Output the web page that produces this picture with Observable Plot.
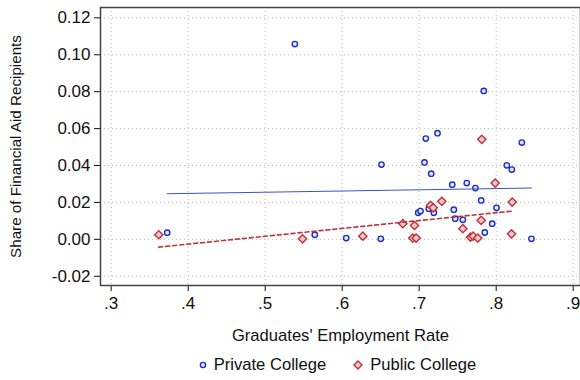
<!DOCTYPE html>
<html>
<head>
<meta charset="utf-8">
<script src="https://cdn.jsdelivr.net/npm/d3@7"></script>
<script src="https://cdn.jsdelivr.net/npm/@observablehq/plot@0.6"></script>
<style>
  body { margin: 0; background: #fff; font-family: "Liberation Sans", Arial, sans-serif; }
  #chart { width: 580px; }
  #chart svg text { font-size: 17px; }
  #chart g[aria-label="x-axis label"] text { font-size: 16.6px; }
  #chart g[aria-label="y-axis label"] text { font-size: 15.2px; }
  .legend { display: flex; justify-content: center; align-items: center; height: 40px; padding-left: 94px; font-size: 16.6px; color: #111; }
  .legend .item { display: flex; align-items: center; margin: 0 13px; }
  .legend svg { margin-right: 6px; }
</style>
</head>
<body>
<div id="chart"></div>
<div class="legend">
  <div class="item"><svg width="10" height="10"><circle cx="5" cy="5" r="2.6" fill="#e4e8fa" stroke="#1c2fc4" stroke-width="1.4"/></svg>Private College</div>
  <div class="item"><svg width="12" height="12"><path d="M6,2L10,6L6,10L2,6Z" fill="#f4c9cb" stroke="#c22f36" stroke-width="1.4"/></svg>Public College</div>
</div>
<script>
// Private colleges: employment rate and share of financial aid recipients
const privateX = [0.5385, 0.3727, 0.5644, 0.6052, 0.6510, 0.6501, 0.7839, 0.7238, 0.7086, 0.8333,
                  0.7069, 0.8138, 0.8203, 0.7156, 0.7429, 0.7618, 0.7730, 0.7805, 0.8004, 0.6987,
                  0.7017, 0.7125, 0.7190, 0.7450, 0.7468, 0.7567, 0.7948, 0.7852, 0.8458];
const privateY = [0.1058, 0.0036, 0.0025, 0.0007, 0.0405, 0.0003, 0.0804, 0.0575, 0.0546, 0.0524,
                  0.0417, 0.0401, 0.0378, 0.0356, 0.0296, 0.0305, 0.0278, 0.0211, 0.0171, 0.0144,
                  0.0153, 0.0166, 0.0144, 0.0161, 0.0112, 0.0106, 0.0085, 0.0037, 0.0003];

// Public colleges
const publicX = [0.3618, 0.5485, 0.6268, 0.6788, 0.6939, 0.6917, 0.6960, 0.7147, 0.7182, 0.7294,
                 0.7567, 0.7666, 0.7701, 0.7761, 0.7813, 0.7987, 0.8208, 0.7805, 0.8199];
const publicY = [0.0025, 0.0003, 0.0017, 0.0085, 0.0075, 0.0007, 0.0007, 0.0184, 0.0171, 0.0206,
                 0.0058, 0.0012, 0.0017, 0.0007, 0.0542, 0.0305, 0.0202, 0.0103, 0.0030];

// Linear fit lines (endpoints at each group's min and max employment rate)
const fitPrivateX = [0.3727, 0.8458];
const fitPrivateY = [0.0247, 0.0278];
const fitPublicX = [0.3618, 0.8208];
const fitPublicY = [-0.0042, 0.0153];

const xTicks = [0.3, 0.4, 0.5, 0.6, 0.7, 0.8, 0.9];
const yTicks = [-0.02, 0, 0.02, 0.04, 0.06, 0.08, 0.10, 0.12];

const zip = (xs, ys) => xs.map((x, i) => ({x, y: ys[i]}));
const privatePts = zip(privateX, privateY);
const publicPts = zip(publicX, publicY);
const fitPrivate = zip(fitPrivateX, fitPrivateY);
const fitPublic = zip(fitPublicX, fitPublicY);

const fmtX = d => d.toFixed(1).replace(/^0/, "");
const fmtY = d => d.toFixed(2);

const chart = Plot.plot({
  width: 580,
  height: 345,
  marginLeft: 100,
  marginTop: 7,
  marginRight: 0,
  marginBottom: 60,
  style: {fontFamily: "Liberation Sans, Arial, sans-serif", fontSize: "17px", color: "#111", background: "#fff"},
  x: {domain: [0.2861, 0.9095]},
  y: {domain: [-0.025, 0.1256]},
  marks: [
    Plot.gridX(xTicks, {stroke: "#bbb", strokeOpacity: 1, strokeDasharray: "1,3"}),
    Plot.gridY(yTicks, {stroke: "#bbb", strokeOpacity: 1, strokeDasharray: "1,3"}),
    Plot.axisX({ticks: xTicks, tickFormat: fmtX, tickSize: 6, tickPadding: 5,
      label: "Graduates' Employment Rate", labelAnchor: "center", labelOffset: 55, labelArrow: false}),
    Plot.axisY({ticks: yTicks, tickFormat: fmtY, tickSize: 6, tickPadding: 4,
      label: "Share of Financial Aid Recipients", labelAnchor: "center", labelOffset: 90, labelArrow: false}),
    Plot.dot(privatePts, {x: "x", y: "y", r: 2.7, stroke: "#1c2fc4", fill: "#e4e8fa", strokeWidth: 1.4}),
    Plot.dot(publicPts, {x: "x", y: "y", symbol: "diamond2", r: 3.7, stroke: "#c22f36", fill: "#f4c9cb", strokeWidth: 1.4}),
    Plot.line(fitPrivate, {x: "x", y: "y", stroke: "#3d53c2", strokeWidth: 1}),
    Plot.line(fitPublic, {x: "x", y: "y", stroke: "#c2303a", strokeWidth: 1.6, strokeDasharray: "4,3"}),
    Plot.frame({stroke: "#444", strokeWidth: 1.5})
  ]
});
document.getElementById("chart").append(chart);
</script>
</body>
</html>
